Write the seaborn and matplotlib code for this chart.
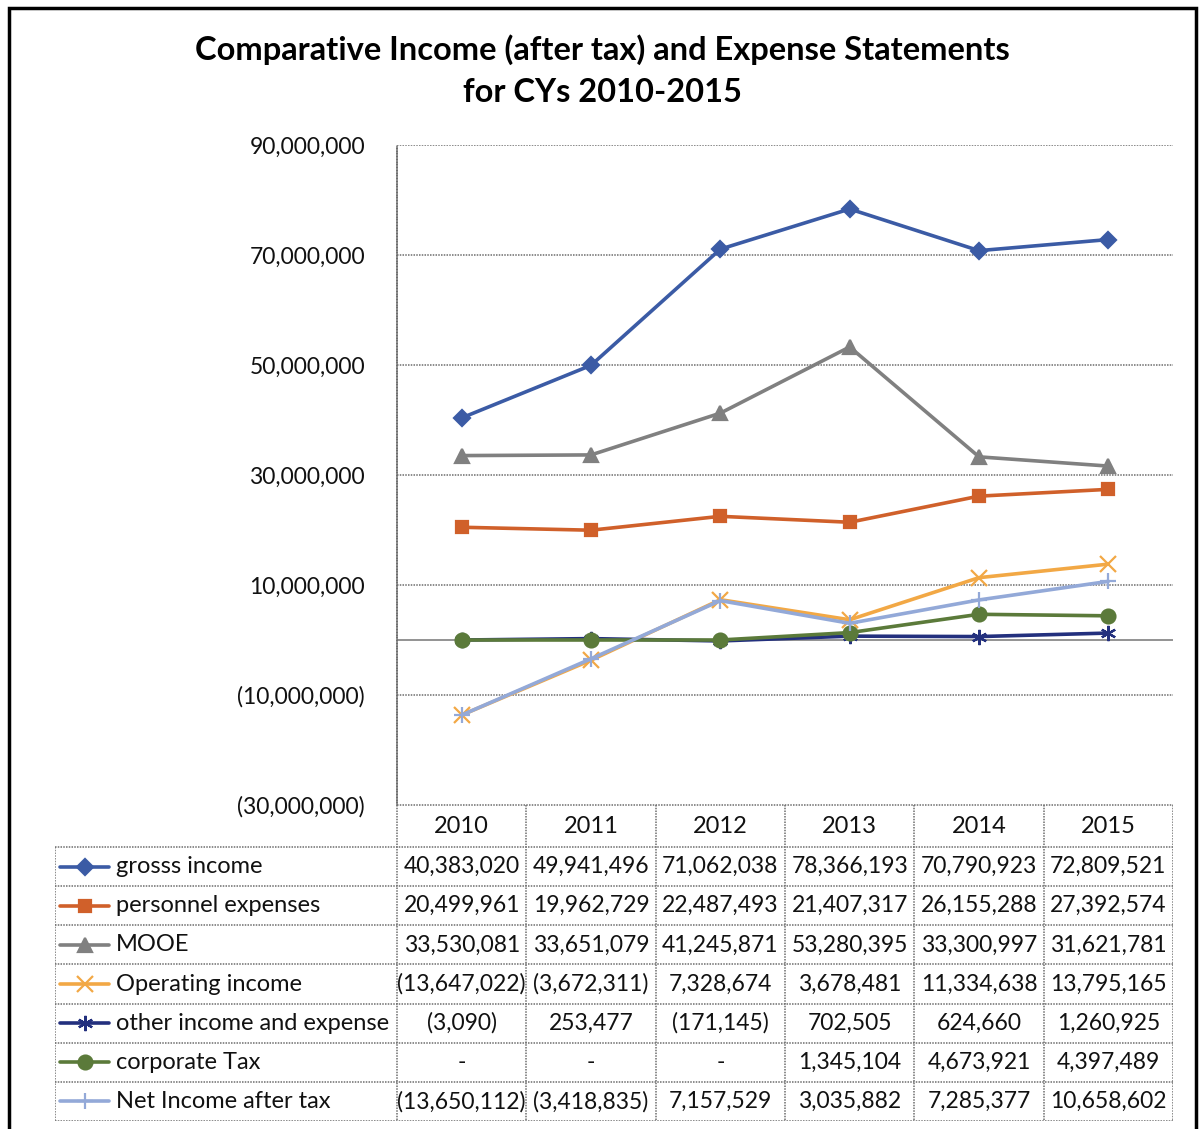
import matplotlib
matplotlib.use("Agg")
import matplotlib.pyplot as plt
from matplotlib.patches import Rectangle
from matplotlib.ticker import FuncFormatter
import seaborn as sns
import numpy as np

years = [2010, 2011, 2012, 2013, 2014, 2015]
series_names = ["grosss income", "personnel expenses", "MOOE", "Operating income",
                "other income and expense", "corporate Tax", "Net Income after tax"]
gross_income = [40383020, 49941496, 71062038, 78366193, 70790923, 72809521]
personnel_expenses = [20499961, 19962729, 22487493, 21407317, 26155288, 27392574]
mooe = [33530081, 33651079, 41245871, 53280395, 33300997, 31621781]
operating_income = [-13647022, -3672311, 7328674, 3678481, 11334638, 13795165]
other_income_expense = [-3090, 253477, -171145, 702505, 624660, 1260925]
corporate_tax = [0, 0, 0, 1345104, 4673921, 4397489]
net_income = [-13650112, -3418835, 7157529, 3035882, 7285377, 10658602]

values = [gross_income, personnel_expenses, mooe, operating_income,
          other_income_expense, corporate_tax, net_income]
colors = ["#3B5BA5", "#D0602A", "#808080", "#F2A845", "#23307E", "#5B7A3A", "#93A9D8"]
markers = ["D", "s", "^", "x", (6, 2, 0), "o", "+"]
msizes = [8, 9, 10, 11, 11, 10, 12]

sns.set_theme(style="white")
plt.rcParams["font.family"] = ["Lato", "DejaVu Sans"]

W, H = 1204, 1129
fig = plt.figure(figsize=(W / 100, H / 100), dpi=100)

GRID = "#6e6e6e"
DOT = (0, (1, 0.8))
TXT = "#111111"


def fmt(v, _pos=None):
    if v == 0:
        return "-"
    if v < 0:
        return f"({abs(v):,.0f})"
    return f"{v:,.0f}"


# main plot area
ax = fig.add_axes([397 / W, 1 - 805 / H, 776 / W, 660 / H])
for vals, name, c, m, ms in zip(values, series_names, colors, markers, msizes):
    sns.lineplot(x=years, y=vals, ax=ax, color=c, marker=m, markersize=ms,
                 markeredgecolor=c, markeredgewidth=1.6, linewidth=2.6, label=None)

ax.set_xlim(2009.5, 2015.5)
ax.set_ylim(-30e6, 90e6)
ax.set_yticks(np.arange(-30e6, 90e6 + 1, 20e6))
ax.yaxis.set_major_formatter(FuncFormatter(lambda v, p: fmt(v) if v != 0 else "0"))
ax.tick_params(axis="y", labelsize=16.5, pad=23, length=0, colors=TXT)
ax.set_xticks([])
for y in np.arange(-30e6, 90e6 + 1, 20e6):
    ax.axhline(y, color=GRID, lw=1.1, ls=DOT, zorder=0)
ax.axhline(0, color="#8a8a8a", lw=1.3, zorder=0)
for s in ["top", "right", "bottom"]:
    ax.spines[s].set_visible(False)
ax.spines["left"].set_color(GRID)
ax.spines["left"].set_linestyle(DOT)
ax.spines["left"].set_linewidth(1.1)
ax.set_ylabel("")
if ax.get_legend():
    ax.get_legend().remove()

# data table under the plot, sharing the year units on x
left_edge = 2009.5 - (397 - 55) / 129.33
tax = fig.add_axes([55 / W, 1 - 1121 / H, 1118 / W, 316 / H])
tax.set_xlim(left_edge, 2015.5)
head = -42 / 39.1
tax.set_ylim(7, head)
tax.axis("off")

edges = [2009.5 + i for i in range(7)]
bkw = dict(color=GRID, lw=1.1, ls=DOT)
tax.plot([2009.5, 2015.5], [head, head], **bkw)
for x in edges:
    tax.plot([x, x], [head, 7], **bkw)
tax.plot([left_edge, left_edge], [0, 7], **bkw)
for r in range(8):
    tax.plot([left_edge, 2015.5], [r, r], **bkw)

for yr in years:
    tax.text(yr, head / 2, str(yr), ha="center", va="center", fontsize=17, color=TXT)

for r, (vals, name, c, m, ms) in enumerate(zip(values, series_names, colors, markers, msizes)):
    yc = r + 0.5
    tax.plot([left_edge + 0.04, left_edge + 0.42], [yc, yc], color=c, lw=2.6)
    tax.plot([left_edge + 0.23], [yc], color=c, marker=m, ms=ms, mec=c, mew=1.6, lw=0)
    tax.text(left_edge + 0.47, yc, name, ha="left", va="center", fontsize=17, color=TXT)
    for yr, v in zip(years, vals):
        tax.text(yr, yc, fmt(v), ha="center", va="center", fontsize=16.5, color=TXT)

fig.text(0.5, 1 - 50 / H, "Comparative Income (after tax) and Expense Statements",
         ha="center", va="center", fontsize=23.5, fontweight="bold", color="black")
fig.text(0.5, 1 - 93 / H, "for CYs 2010-2015",
         ha="center", va="center", fontsize=23.5, fontweight="bold", color="black")

fig.patches.append(Rectangle((9 / W, -0.01), 1187 / W, 1.0 - 8 / H + 0.01,
                             transform=fig.transFigure, fill=False,
                             edgecolor="black", lw=2.5))

fig.savefig("out.png", dpi=100)
